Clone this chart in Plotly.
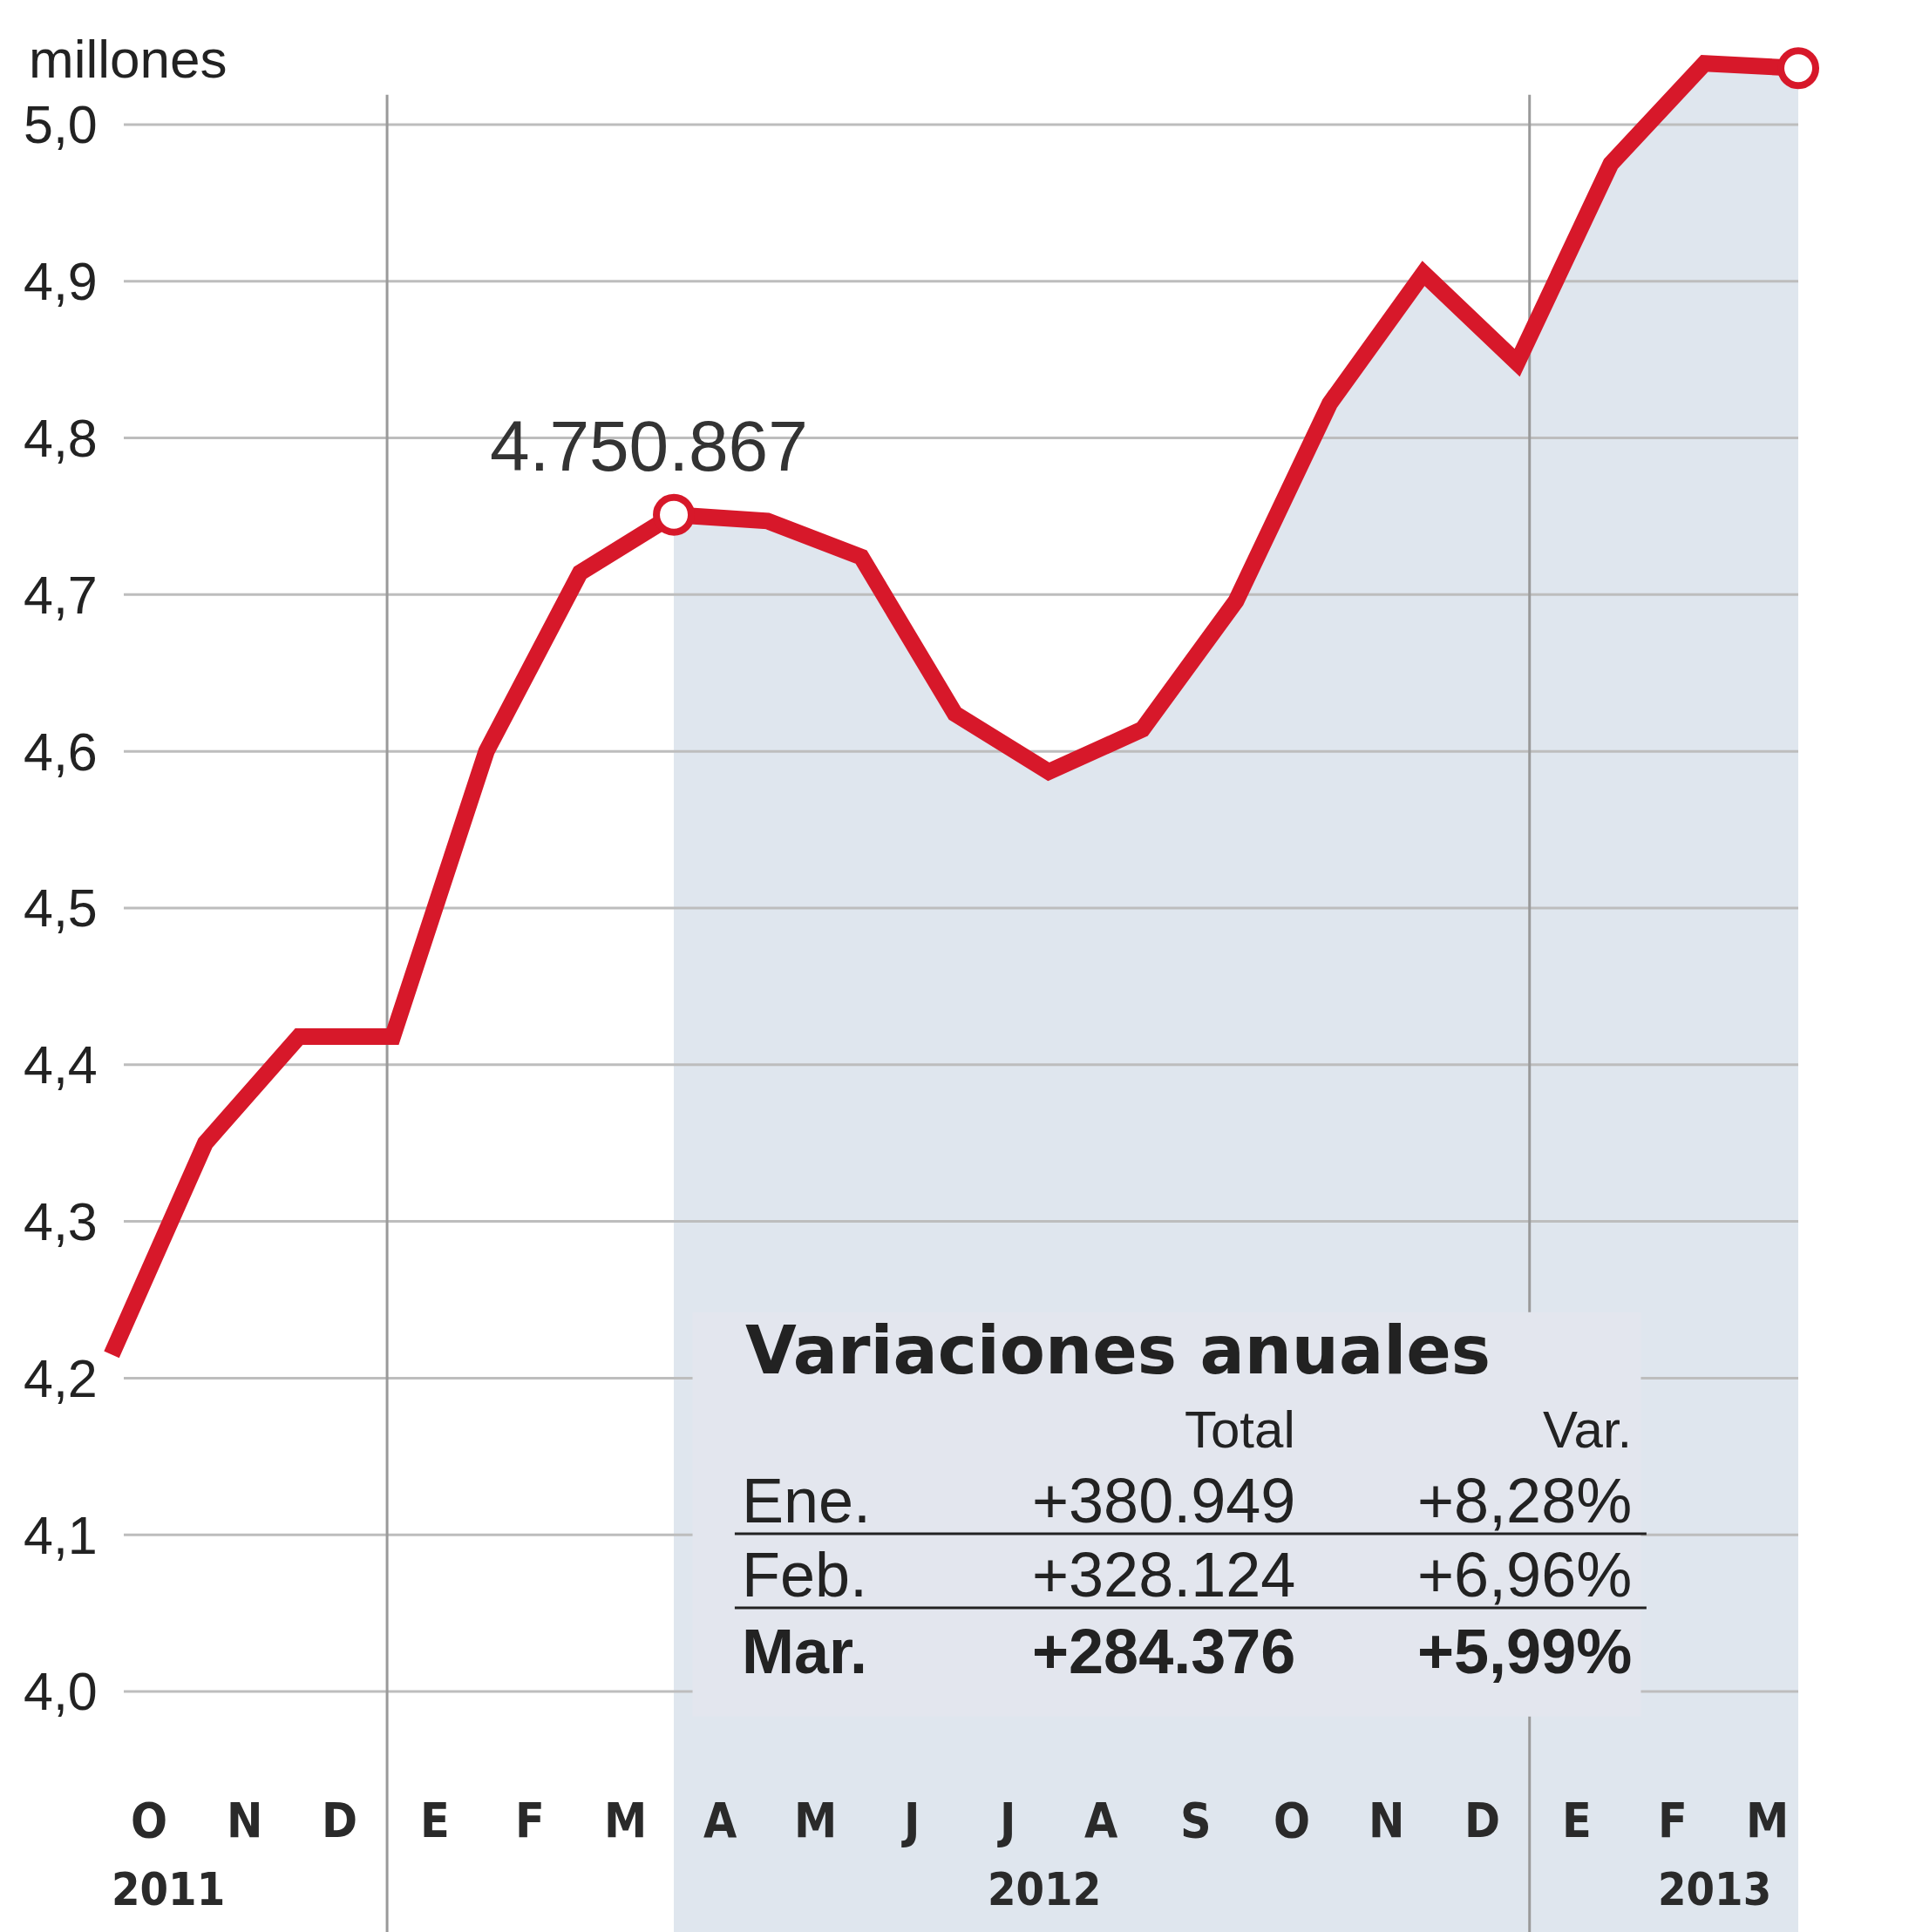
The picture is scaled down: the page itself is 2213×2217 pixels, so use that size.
import plotly.graph_objects as go

# ---- data ----
point_index = list(range(19))  # Sep 2011 ... Mar 2013
paro_millones = [4.215, 4.350, 4.418, 4.418, 4.600, 4.714, 4.751, 4.747, 4.724,
                 4.624, 4.587, 4.614, 4.696, 4.822, 4.905, 4.848, 4.975, 5.039, 5.036]
month_labels = ["O", "N", "D", "E", "F", "M", "A", "M", "J", "J", "A", "S",
                "O", "N", "D", "E", "F", "M"]
year_labels = ["2011", "2012", "2013"]
y_ticks = [4.0, 4.1, 4.2, 4.3, 4.4, 4.5, 4.6, 4.7, 4.8, 4.9, 5.0]
highlight_label = "4.750.867"
table_title = "Variaciones anuales"
table_headers = ["Total", "Var."]
table_months = ["Ene.", "Feb.", "Mar."]
table_totals = ["+380.949", "+328.124", "+284.376"]
table_vars = ["+8,28%", "+6,96%", "+5,99%"]

# ---- layout constants ----
W, H = 2213, 2217
RED = "#d7182a"
SHADE = "#dfe6ee"
FONT = "Liberation Sans, Arial, sans-serif"
NARROW = "Liberation Sans Narrow, Arial Narrow, DejaVu Sans Condensed, Liberation Sans, sans-serif"
TXT = "#222222"
XR = [-1.191, 19.395]
YR = [3.8465, 5.0795]
month_pos = [0.4 + 1.016 * k for k in range(len(month_labels))]
sep_pos = [(month_pos[2] + month_pos[3]) / 2, (month_pos[14] + month_pos[15]) / 2]
year_pos = [0.6, 9.95, 17.11]
shade_start = 6

fig = go.Figure()

# shaded area under the line from Mar 2012
fig.add_trace(go.Scatter(
    x=point_index[shade_start:], y=paro_millones[shade_start:],
    mode="lines", line=dict(width=0), fill="tozeroy", fillcolor=SHADE,
    hoverinfo="skip", showlegend=False))

# gridlines
gx, gy = [], []
for v in y_ticks:
    gx += [0.13, point_index[-1], None]
    gy += [v, v, None]
fig.add_trace(go.Scatter(x=gx, y=gy, mode="lines",
                         line=dict(color="#bdbdbd", width=3),
                         hoverinfo="skip", showlegend=False))

# year separators
vx, vy = [], []
for s in sep_pos:
    vx += [s, s, None]
    vy += [5.019, YR[0], None]
fig.add_trace(go.Scatter(x=vx, y=vy, mode="lines",
                         line=dict(color="#9a9a9a", width=3),
                         hoverinfo="skip", showlegend=False))

# main line
fig.add_trace(go.Scatter(x=point_index, y=paro_millones, mode="lines",
                         line=dict(color=RED, width=19),
                         hoverinfo="skip", showlegend=False))

# highlighted points
hl = [shade_start, len(point_index) - 1]
fig.add_trace(go.Scatter(
    x=[point_index[i] for i in hl], y=[paro_millones[i] for i in hl],
    mode="markers",
    marker=dict(symbol="circle", size=40, color="white", line=dict(color=RED, width=8)),
    hoverinfo="skip", showlegend=False, cliponaxis=False))

shapes = [
    dict(type="rect", xref="x", yref="y", x0=6.2, x1=16.32, y0=3.984, y1=4.242,
         fillcolor="#e3e6ee", line=dict(width=0), layer="above"),
    dict(type="line", xref="x", yref="y", x0=6.65, x1=16.38, y0=4.1007, y1=4.1007,
         line=dict(color="#222222", width=3), layer="above"),
    dict(type="line", xref="x", yref="y", x0=6.65, x1=16.38, y0=4.0534, y1=4.0534,
         line=dict(color="#222222", width=3), layer="above"),
]

ann = []
# month labels
for p, m in zip(month_pos, month_labels):
    ann.append(dict(x=p, y=3.9177, xref="x", yref="y", text="<b>" + m + "</b>", showarrow=False,
                    font=dict(family=NARROW, size=55, color="#2a2a2a"), xanchor="center", yanchor="middle"))
for p, yl in zip(year_pos, year_labels):
    ann.append(dict(x=p, y=3.8737, xref="x", yref="y", text="<b>" + yl + "</b>", showarrow=False,
                    font=dict(family=NARROW, size=52, color="#2a2a2a"), xanchor="center", yanchor="middle"))
# unit label
ann.append(dict(x=31 / W, y=1 - 68 / H, xref="paper", yref="paper", text="millones",
                showarrow=False, font=dict(family=FONT, size=62, color=TXT),
                xanchor="left", yanchor="middle"))
# highlight value
ann.append(dict(x=5.73, y=4.7953, xref="x", yref="y", text=highlight_label, showarrow=False,
                font=dict(family=FONT, size=82, color="#333333"), xanchor="center", yanchor="middle"))
# table
ann.append(dict(x=6.74, y=4.2175, xref="x", yref="y", text="<b>" + table_title + "</b>",
                showarrow=False, font=dict(family="DejaVu Sans, sans-serif", size=76, color=TXT),
                xanchor="left", yanchor="middle"))
ann.append(dict(x=12.65, y=4.1674, xref="x", yref="y", text=table_headers[0], showarrow=False,
                font=dict(family=FONT, size=60, color=TXT), xanchor="right", yanchor="middle"))
ann.append(dict(x=16.24, y=4.1674, xref="x", yref="y", text=table_headers[1], showarrow=False,
                font=dict(family=FONT, size=60, color=TXT), xanchor="right", yanchor="middle"))
row_y = [4.1218, 4.0745, 4.0256]
for i, (mo, tot, var) in enumerate(zip(table_months, table_totals, table_vars)):
    bold = i == len(table_months) - 1
    wrap = (lambda s: "<b>" + s + "</b>") if bold else (lambda s: s)
    f = dict(family=FONT, size=72, color=TXT)
    ann.append(dict(x=6.71, y=row_y[i], xref="x", yref="y", text=wrap(mo), showarrow=False,
                    font=f, xanchor="left", yanchor="middle"))
    ann.append(dict(x=12.65, y=row_y[i], xref="x", yref="y", text=wrap(tot), showarrow=False,
                    font=f, xanchor="right", yanchor="middle"))
    ann.append(dict(x=16.24, y=row_y[i], xref="x", yref="y", text=wrap(var), showarrow=False,
                    font=f, xanchor="right", yanchor="middle"))

fig.update_layout(
    width=W, height=H,
    margin=dict(l=0, r=0, t=0, b=0, pad=0, autoexpand=False),
    paper_bgcolor="white", plot_bgcolor="white",
    separators=",.",
    showlegend=False,
    shapes=shapes,
    annotations=ann,
    xaxis=dict(range=XR, visible=False, fixedrange=True, automargin=False),
    yaxis=dict(range=YR, tickvals=y_ticks, tickformat=".1f", showgrid=False,
               zeroline=False, showline=False, ticks="", ticklabelposition="inside",
               ticklabelstandoff=24, automargin=False,
               tickfont=dict(family=FONT, size=61, color=TXT), fixedrange=True),
)

fig.write_html("out.html",
               config={"displayModeBar": False, "staticPlot": True},
               post_script="document.body.style.margin='0';document.body.style.overflow='hidden';")
